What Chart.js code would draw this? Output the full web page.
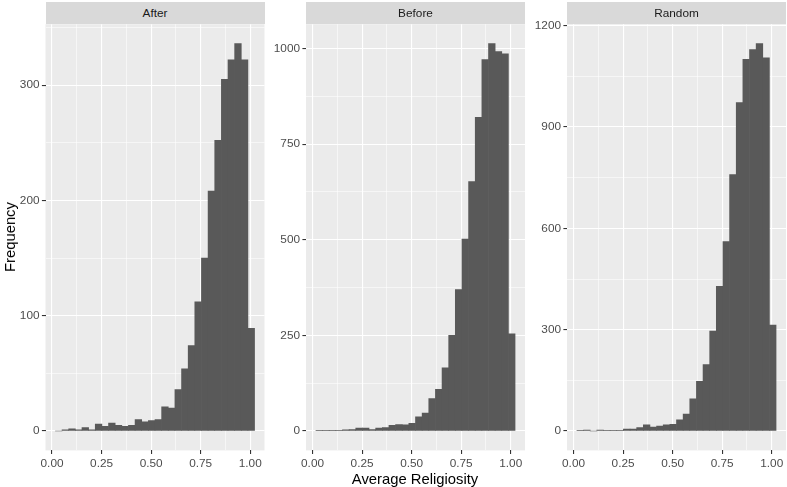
<!DOCTYPE html>
<html>
<head>
<meta charset="utf-8">
<script src="https://cdn.jsdelivr.net/npm/chart.js@4/dist/chart.umd.min.js"></script>
<style>
html,body{margin:0;padding:0;background:#ffffff;}
#wrap{position:relative;width:787px;height:487px;overflow:hidden;font-family:"Liberation Sans",Arial,Helvetica,sans-serif;}
canvas{position:absolute;top:0;}
.strip{position:absolute;top:1.7px;height:22.5px;width:219px;background:#D9D9D9;color:#1A1A1A;font-size:11.8px;line-height:23px;text-align:center;}
.ytitle{position:absolute;left:10px;top:237px;transform:translate(-50%,-50%) rotate(-90deg);font-size:14.8px;color:#000;white-space:nowrap;}
.xtitle{position:absolute;left:415px;top:479px;transform:translate(-50%,-50%);font-size:14.8px;color:#000;white-space:nowrap;}
</style>
</head>
<body>
<div id="wrap">
  <canvas id="c1" width="265" height="487" style="left:0px"></canvas>
  <canvas id="c2" width="260" height="487" style="left:266px"></canvas>
  <canvas id="c3" width="260" height="487" style="left:527px"></canvas>
  <div class="strip" style="left:45.5px">After</div>
  <div class="strip" style="left:306px">Before</div>
  <div class="strip" style="left:567px">Random</div>
  <div class="ytitle">Frequency</div>
  <div class="xtitle">Average Religiosity</div>
</div>
<script>
// Panel names (facets)
const panels = ["After", "Before", "Random"];

// Histogram bin centres (Average Religiosity), shared by all panels
const binCenters = [0.0339, 0.0673, 0.1008, 0.1343, 0.1678, 0.2013, 0.2348, 0.2683, 0.3018, 0.3353,
                    0.3688, 0.4022, 0.4357, 0.4692, 0.5027, 0.5362, 0.5697, 0.6032, 0.6367, 0.6702,
                    0.7037, 0.7371, 0.7706, 0.8041, 0.8376, 0.8711, 0.9046, 0.9381, 0.9716, 1.0051];

// Frequencies per bin
const afterCounts  = [0, 1, 2, 1, 3, 1, 6, 4, 7, 5, 4, 5, 10, 8, 9, 10, 21, 20, 36, 54,
                      74, 112, 150, 208, 252, 305, 322, 336, 322, 89];
const beforeCounts = [1, 2, 1, 2, 3, 4, 8, 8, 4, 8, 9, 15, 17, 16, 20, 37, 47, 85, 109, 165,
                      250, 370, 502, 652, 820, 971, 1013, 992, 986, 254];
const randomCounts = [1, 3, 0, 3, 2, 2, 2, 6, 6, 10, 18, 12, 15, 18, 20, 33, 50, 95, 147, 197,
                      296, 428, 561, 759, 972, 1100, 1129, 1147, 1105, 314];

// Tick labels (major breaks)
const xTickLabels = ["0.00", "0.25", "0.50", "0.75", "1.00"];
const afterYTicks  = [0, 100, 200, 300];
const beforeYTicks = [0, 250, 500, 750, 1000];
const randomYTicks = [0, 300, 600, 900, 1200];

Chart.defaults.font.family = '"Liberation Sans", Arial, Helvetica, sans-serif';

const panelBg = {
  id: 'panelBg',
  beforeDraw(chart) {
    const a = chart.chartArea, c = chart.ctx;
    c.save();
    c.fillStyle = '#EBEBEB';
    c.fillRect(a.left, a.top, a.right - a.left, a.bottom - a.top);
    c.restore();
  }
};

function near(v, list) { return list.some(t => Math.abs(t - v) < 1e-6); }
function isMajor(ctx, list) { return !!(ctx && ctx.tick && near(ctx.tick.value, list)); }
const xMajorVals = xTickLabels.map(Number);

// major breaks plus ggplot-style minor breaks (midpoints) inside [lo, hi]
function withMinor(majors, lo, hi) {
  const step = majors[1] - majors[0];
  const out = [];
  const ext = [majors[0] - step, ...majors, majors[majors.length - 1] + step];
  for (let i = 0; i < ext.length; i++) {
    out.push(ext[i]);
    if (i < ext.length - 1) out.push((ext[i] + ext[i + 1]) / 2);
  }
  return out.filter(v => v >= lo && v <= hi);
}

const xMin = -0.033, xMax = 1.072;

function makeChart(id, counts, yTicks, yAxisWidth, padRight) {
  const maxC = Math.max(...counts);
  const yMin = -0.05 * maxC, yMax = 1.05 * maxC;
  const yAll = withMinor(yTicks, yMin, yMax);
  const xAll = withMinor(xMajorVals, xMin, xMax);
  return new Chart(document.getElementById(id), {
    type: 'bar',
    data: {
      datasets: [{
        data: binCenters.map((x, i) => ({x: x, y: counts[i]})),
        backgroundColor: '#595959',
        borderWidth: 0,
        barPercentage: 1.0,
        categoryPercentage: 1.0
      }]
    },
    options: {
      responsive: false,
      animation: false,
      events: [],
      layout: {padding: {top: 24.2, right: padRight, left: 0, bottom: 0}},
      plugins: {legend: {display: false}, tooltip: {enabled: false}},
      scales: {
        x: {
          type: 'linear',
          offset: false,
          min: xMin, max: xMax,
          border: {display: false},
          afterBuildTicks: s => { s.ticks = xAll.map(v => ({value: v})); },
          grid: {
            offset: false,
            color: '#FFFFFF',
            lineWidth: ctx => isMajor(ctx, xMajorVals) ? 1.1 : 0.55,
            tickColor: ctx => isMajor(ctx, xMajorVals) ? '#333333' : 'rgba(0,0,0,0)',
            tickWidth: ctx => isMajor(ctx, xMajorVals) ? 1.1 : 0.01,
            tickLength: 3.6,
            drawTicks: true
          },
          ticks: {
            autoSkip: false,
            maxRotation: 0, minRotation: 0,
            padding: 2.4,
            color: '#4D4D4D',
            font: {size: 11.8},
            callback: v => {
              const i = xMajorVals.findIndex(t => Math.abs(t - v) < 1e-6);
              return i >= 0 ? xTickLabels[i] : '';
            }
          },
          afterFit: s => { s.height = 36.6; }
        },
        y: {
          type: 'linear',
          min: yMin, max: yMax,
          border: {display: false},
          afterBuildTicks: s => { s.ticks = yAll.map(v => ({value: v})); },
          grid: {
            color: '#FFFFFF',
            lineWidth: ctx => isMajor(ctx, yTicks) ? 1.1 : 0.55,
            tickColor: ctx => isMajor(ctx, yTicks) ? '#333333' : 'rgba(0,0,0,0)',
            tickWidth: ctx => isMajor(ctx, yTicks) ? 1.1 : 0.01,
            tickLength: 3.6,
            drawTicks: true
          },
          ticks: {
            autoSkip: false,
            padding: 2.4,
            color: '#4D4D4D',
            font: {size: 11.8},
            callback: v => near(v, yTicks) ? String(Math.round(v)) : ''
          },
          afterFit: s => { s.width = yAxisWidth; }
        }
      }
    },
    plugins: [panelBg]
  });
}

makeChart('c1', afterCounts,  afterYTicks,  45.5, 0.5);
makeChart('c2', beforeCounts, beforeYTicks, 40, 1);
makeChart('c3', randomCounts, randomYTicks, 40, 1);
</script>
</body>
</html>
